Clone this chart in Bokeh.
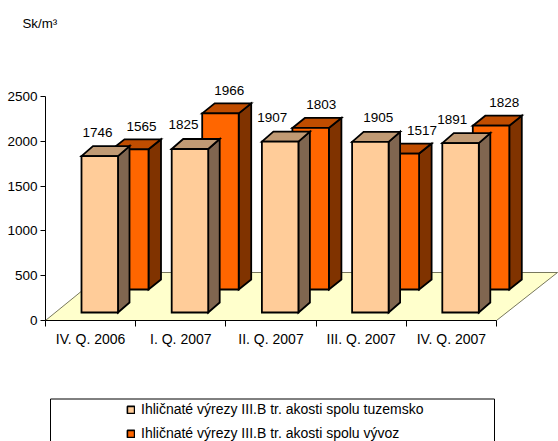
from bokeh.plotting import figure
from bokeh.layouts import column
from bokeh.models import (FixedTicker, Legend, LegendItem, BoxAnnotation, ColumnDataSource, Title)
from bokeh.core.properties import value
from bokeh.embed import file_html
from bokeh.resources import INLINE

categories = ["IV. Q. 2006", "I. Q. 2007", "II. Q. 2007", "III. Q. 2007", "IV. Q. 2007"]
domestic = [1746, 1825, 1907, 1905, 1891]
export = [1565, 1966, 1803, 1517, 1828]
y_ticks = [0, 500, 1000, 1500, 2000, 2500]
series_names = ["Ihličnaté výrezy III.B tr. akosti spolu tuzemsko",
                "Ihličnaté výrezy III.B tr. akosti spolu vývoz"]
unit_label = "Sk/m³"

FONT = "Liberation Sans"
FS = "13.5px"
W = 558
H1, H2 = 392, 49
L, T, R, B = 45, 32, 0, 72
PX_X = 90.2            # pixels per category
PX_Y = 0.0896          # pixels per value unit
ux = lambda px: px / PX_X
uy = lambda px: px / PX_Y

p = figure(width=W, height=H1, output_backend="svg", toolbar_location=None,
           x_range=(0, (W - L - R) / PX_X), y_range=(0, (H1 - T - B) / PX_Y),
           min_border_left=L, min_border_right=R, min_border_top=T, min_border_bottom=B,
           background_fill_color="white", border_fill_color="white")
p.outline_line_color = None
p.grid.visible = False
p.add_layout(Title(text=unit_label, align="left", offset=-23, standoff=3, text_font=FONT,
                   text_font_size="13.3px", text_font_style="normal", text_color="black"), "above")


def bars(vals, x0_px, w_px, base_px, dx_px, dy_px, face, top, side, lw=1.8):
    n = range(len(vals))
    left = [i + ux(x0_px) for i in n]
    right = [l + ux(w_px) for l in left]
    base = uy(base_px)
    tops = [base + v for v in vals]
    dx, dy = ux(dx_px), uy(dy_px)
    style = dict(line_color="black", line_width=lw, line_join="miter")
    p.patches([[r, r + dx, r + dx, r] for r in right],
              [[base, base + dy, t + dy, t] for t in tops], fill_color=side, **style)
    p.patches([[l, l + dx, r + dx, r] for l, r in zip(left, right)],
              [[t, t + dy, t + dy, t] for t in tops], fill_color=top, **style)
    p.quad(left=left, right=right, bottom=base, top=tops, fill_color=face, **style)


# floor of the 3-D chart
p.patch([0, 5, 5 + ux(61), ux(59)], [0, 0, uy(48), uy(48)],
        fill_color="#FFFFCC", line_color="#55553a", line_width=0.8)

bars(export, 66.5, 36.5, 31, 12.5, 10, "#FF6600", "#C04D00", "#803300")
bars(domestic, 36, 36.5, 8, 11.5, 10, "#FFCC99", "#C09A74", "#806650")

# value labels (horizontal nudge in px from the category start, gap above top in px)
front_dx = [52, 47.8, 46.4, 62.2, 45.9]
back_dx = [96, 93.6, 95.4, 105.9, 97.9]
rows = dict(x=[], y=[], t=[])
for i, (a, b) in enumerate(zip(domestic, export)):
    rows["x"] += [i + ux(front_dx[i]), i + ux(back_dx[i])]
    rows["y"] += [uy(8) + a + uy(24), uy(31) + b + uy(23)]
    rows["t"] += [str(a), str(b)]
p.text("x", "y", text="t", source=ColumnDataSource(rows), text_align="center",
       text_baseline="middle", text_color="black", text_font=value(FONT), text_font_size=FS)

# axes
ya = p.yaxis[0]
ya.ticker = FixedTicker(ticks=y_ticks)
ya.bounds = (0, 2500)
xa = p.xaxis[0]
xa.ticker = FixedTicker(ticks=[i + 0.5 for i in range(5)], minor_ticks=list(range(6)))
xa.major_label_overrides = {i + 0.5: c for i, c in enumerate(categories)}
xa.bounds = (0, 5)
xa.major_tick_in = 0
xa.major_tick_out = 0
xa.minor_tick_in = 0
xa.minor_tick_out = 6
xa.minor_tick_line_color = "black"
xa.major_label_standoff = 4
ya.major_tick_in = 0
ya.major_tick_out = 5
ya.minor_tick_line_color = None
ya.major_label_standoff = 3
for ax in (xa, ya):
    ax.axis_line_color = "black"
    ax.major_tick_line_color = "black" if ax is ya else None
    ax.major_label_text_font = FONT
    ax.major_label_text_font_size = FS
    ax.major_label_text_color = "black"
xa.major_label_text_font_size = "14px"

# legend panel: a second, axis-less figure measured in pixels; column() lines its frame up with the chart's
p2 = figure(width=W, height=H2, output_backend="svg", toolbar_location=None,
            x_range=(L, W), y_range=(0, H2), x_axis_type=None, y_axis_type=None,
            min_border=0, background_fill_color="white", border_fill_color="white")
p2.outline_line_color = None
p2.grid.visible = False
p2.add_layout(BoxAnnotation(left=50, right=494, top=H2 - 6.5, bottom=-10,
                            fill_color="white", fill_alpha=1, line_color="black",
                            line_alpha=1, line_width=1))
k1 = p2.quad(left=[0], right=[0], bottom=[0], top=[0], fill_color="#FFCC99", line_color="black", line_width=1.6)
k2 = p2.quad(left=[0], right=[0], bottom=[0], top=[0], fill_color="#FF6600", line_color="black", line_width=1.6)
legend = Legend(items=[LegendItem(label=series_names[0], renderers=[k1]),
                       LegendItem(label=series_names[1], renderers=[k2])],
                location=(81, 0), orientation="vertical", padding=0, margin=0, spacing=8,
                glyph_width=9, glyph_height=9, label_height=14, label_standoff=6,
                border_line_color=None, background_fill_alpha=0,
                label_text_font=FONT, label_text_font_size="14px", label_text_color="black")
p2.add_layout(legend, "center")

open("out.html", "w").write(file_html(column(p, p2, spacing=0), INLINE))
